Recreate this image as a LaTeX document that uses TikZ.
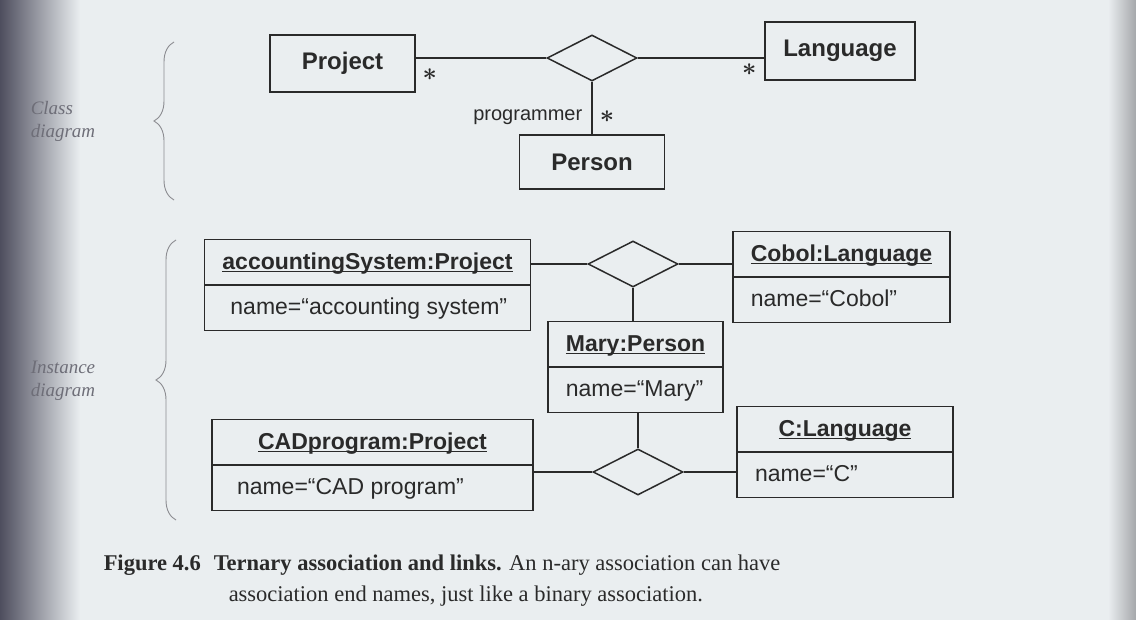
\documentclass[tikz,border=0pt]{standalone}
\usepackage{fontspec}
\setmainfont{Liberation Serif}
\setsansfont{Liberation Sans}
\usetikzlibrary{shapes.geometric,shapes.multipart,decorations.pathreplacing,positioning}

\definecolor{paper}{RGB}{234,238,240}
\definecolor{ink}{RGB}{42,42,42}
\definecolor{margin}{RGB}{110,110,120}
\definecolor{bracegray}{RGB}{140,140,145}
\definecolor{shadowdark}{RGB}{78,78,94}
\definecolor{shadowmid}{RGB}{175,177,190}
\definecolor{edge}{RGB}{165,167,170}

\newcommand{\uname}[1]{\sbox0{\bfseries#1}\rlap{\rule[-3pt]{\wd0}{1.3pt}}\usebox0}
\newcommand{\ostrut}{\rule[-15pt]{0pt}{44pt}}

\begin{document}
\begin{tikzpicture}
  [x=1pt, y=-1pt, node distance=2cm, color=ink, line width=1.5pt,
    classbox/.style={%
      rectangle, draw, inner sep=0pt,
      font=\sffamily\bfseries\fontsize{24}{28}\selectfont
    },
    assoc/.style={%
      diamond, draw, minimum width=90pt, minimum height=46pt, inner sep=0pt
    },
    object/.style={%
      rectangle split, rectangle split parts=2, draw,
      rectangle split part align={center,left},
      inner xsep=18pt, inner ysep=0pt,
      font=\sffamily\fontsize{23}{28}\selectfont
    },
    mult/.style={%
      inner sep=0pt, font=\fontsize{26}{26}\selectfont\boldmath
    },
    endname/.style={%
      inner sep=0pt, font=\sffamily\fontsize{20}{24}\selectfont
    },
    side/.style={%
      inner sep=0pt, align=left, color=margin,
      font=\itshape\fontsize{19}{23}\selectfont
    },
    bracket/.style={%
      decorate, decoration={brace, amplitude=20pt},
      line width=0.9pt, color=bracegray
    },
    caption/.style={%
      inner sep=0pt, font=\fontsize{22.5}{32}\selectfont
    },
  ]

  \fill[paper] (0,0) rectangle (1136,620);
  \shade[left color=shadowdark, middle color=shadowmid, right color=paper]
    (0,0) rectangle (80,620);
  \shade[left color=paper, right color=edge] (1108,0) rectangle (1136,620);
  \useasboundingbox (0,0) rectangle (1136,620);

  \node[assoc] (tern) at (592,58) {};
  \node[classbox, minimum width=145pt, minimum height=57pt] (project)
    at (342.5,63.5) {Project};
  \node[classbox, minimum width=150pt, minimum height=58pt] (language)
    at (840,51) {Language};
  \node[classbox, minimum width=145pt, minimum height=54pt] (person)
    [below of=tern, node distance=104pt] {Person};

  \draw (tern.west) -- (tern.west -| project.east)
    node[mult, below right=10pt and 6pt] {$\ast$};
  \draw (tern.east) -- (tern.east -| language.west)
    node[mult, below left=5pt and 7pt] {$\ast$};
  \draw (tern.south) -- (tern.south |- person.north)
    node[endname, pos=0.67, left=9pt] {programmer}
    node[mult, pos=0.67, right=7pt] {$\ast$};

  \node[assoc] (link1) at (633,264) {};
  \node[assoc] (link2) at (638,472) {};

  \node[object, minimum width=325pt] (accsys) at (367.5,285)
    {\ostrut\uname{accountingSystem:Project}%
     \nodepart{two}\ostrut\hspace*{8pt}name=“accounting system”};
  \node[object, minimum width=321pt] (cadprog) at (372.5,465)
    {\ostrut\uname{CADprogram:Project}%
     \nodepart{two}\ostrut\hspace*{7pt}name=“CAD program”};
  \node[object, minimum width=175pt] (mary) at (635.5,367)
    {\ostrut\uname{Mary:Person}%
     \nodepart{two}\ostrut name=“Mary”};
  \node[object, minimum width=217pt] (cobol) at (841.5,277)
    {\ostrut\uname{Cobol:Language}%
     \nodepart{two}\ostrut name=“Cobol”};
  \node[object, minimum width=216pt] (clang) at (845,452)
    {\ostrut\uname{C:Language}%
     \nodepart{two}\ostrut name=“C”};

  \draw (link1.west) -- (link1.west -| accsys.east);
  \draw (link1.east) -- (link1.east -| cobol.west);
  \draw (link1.south) -- (link1.south |- mary.north);
  \draw (link2.north) -- (link2.north |- mary.south);
  \draw (link2.west) -- (link2.west -| cadprog.east);
  \draw (link2.east) -- (link2.east -| clang.west);

  \draw[bracket] (174,200) -- (174,42);
  \draw[bracket] (176,520) -- (176,240);
  \node[side, anchor=west] (clslbl) at (30,121) {Class\\diagram};
  \node[side, anchor=west] (instlbl) at (30,381) {Instance\\diagram};

  \node[caption, anchor=base west] (fignum) at (103,570) {\textbf{Figure 4.6}};
  \node[caption, anchor=base west] (figline1) at (213,570)
    {\textbf{Ternary association and links.} An n-ary association can have};
  \node[caption, anchor=base west] (figline2) at (228,601)
    {association end names, just like a binary association.};

\end{tikzpicture}
\end{document}
